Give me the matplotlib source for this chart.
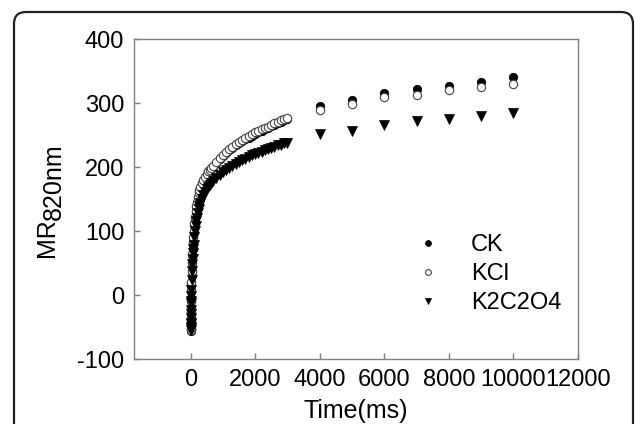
import matplotlib
matplotlib.use("Agg")
import matplotlib.pyplot as plt
from matplotlib.patches import FancyBboxPatch

plt.rcParams['font.family'] = ['Liberation Sans', 'DejaVu Sans']
plt.rcParams['axes.unicode_minus'] = False

# dense part of the transients (ms)
t_dense = [0, 0.5, 1, 2, 3, 5, 7, 10, 15, 20, 25, 30, 40, 50, 60, 70, 80, 90,
           100, 120, 140, 160, 180, 200, 225, 250, 275, 300, 350, 400, 450,
           500, 550, 600, 650, 700, 800, 900, 1000, 1100, 1200, 1300, 1400,
           1500, 1600, 1700, 1800, 1900, 2000, 2100, 2200, 2300, 2400, 2500,
           2600, 2700, 2800, 2900, 3000]

kcl_dense = [-10, -30, -45, -53, -55, -52, -45, -35, -20, -5, 8, 20, 38, 52,
             64, 74, 83, 91, 100, 112, 122, 131, 139, 146, 153, 159, 164, 168,
             175, 180, 185, 189, 193, 196, 199, 202, 208, 214, 219, 224, 228,
             232, 236, 239, 242, 245, 248, 251, 254, 256, 259, 261, 263, 266,
             268, 270, 273, 275, 277]

ck_dense = [-10, -30, -45, -53, -56, -53, -46, -36, -21, -7, 6, 18, 36, 50,
            62, 72, 81, 89, 98, 110, 120, 129, 137, 144, 151, 157, 162, 166,
            173, 178, 183, 187, 191, 194, 197, 200, 206, 212, 217, 222, 226,
            230, 234, 237, 240, 243, 246, 249, 252, 254, 257, 259, 261, 264,
            266, 268, 271, 273, 275]

k2c2o4_dense = [-10, -30, -45, -52, -54, -50, -44, -36, -24, -12, -2, 8, 24,
                37, 48, 57, 65, 72, 78, 90, 100, 108, 115, 121, 128, 134, 139,
                143, 150, 156, 161, 165, 169, 172, 175, 178, 183, 188, 192, 196,
                199, 202, 205, 208, 211, 213, 216, 218, 220, 222, 224, 226, 228,
                230, 232, 234, 235, 237, 238]

# sparse part (ms)
t_sparse = [4000, 5000, 6000, 7000, 8000, 9000, 10000]
ck_sparse = [295, 305, 315, 322, 327, 333, 341]
kcl_sparse = [289, 298, 309, 312, 320, 325, 330]
k2c2o4_sparse = [252, 257, 266, 272, 275, 279, 284]

fig = plt.figure(figsize=(6.35, 4.24), dpi=100)
ax = fig.add_axes([134 / 635, 65 / 424, 444 / 635, 320 / 424])

ms_c = 6
ms_t = 6.5
ax.plot(t_dense + t_sparse, ck_dense + ck_sparse, 'o', ms=ms_c, mfc='black',
        mec='black', mew=0.6, label='CK', zorder=3)
ax.plot(t_dense + t_sparse, kcl_dense + kcl_sparse, 'o', ms=ms_c, mfc='white',
        mec='#444444', mew=0.8, label='KCl', zorder=4)
ax.plot(t_dense + t_sparse, k2c2o4_dense + k2c2o4_sparse, 'v', ms=ms_t,
        mfc='black', mec='black', mew=0.5, label='K2C2O4', zorder=5)

ax.set_xlim(-1750, 12000)
ax.set_ylim(-100, 400)
ax.set_xticks([0, 2000, 4000, 6000, 8000, 10000, 12000])
ax.set_yticks([-100, 0, 100, 200, 300, 400])

for s in ax.spines.values():
    s.set_color('#808080')
    s.set_linewidth(1)
ax.tick_params(direction='in', length=4, width=1, color='#808080',
               labelsize=17, pad=7)

leg = ax.legend(loc='upper left', bbox_to_anchor=(0.60, 0.42), frameon=False,
                fontsize=17, markerscale=0.7, handlelength=1.5,
                handletextpad=1.1, labelspacing=0.3, borderaxespad=0)

# y label with lowered "820nm"
fig.text(47 / 635, 1 - 238 / 424, 'MR', rotation=90, fontsize=18,
         ha='center', va='center')
fig.text(54 / 635, 1 - 182 / 424, '820nm', rotation=90, fontsize=18,
         ha='center', va='center')
fig.text(356 / 635, 1 - 411 / 424, 'Time(ms)', fontsize=18,
         ha='center', va='center')

# rounded outer frame
frame = FancyBboxPatch((14, -30), 619, 442,
                       boxstyle='round,pad=0,rounding_size=12',
                       transform=None, fill=False, ec='#222222', lw=1.6)
fig.add_artist(frame)

fig.savefig('out.png', dpi=100)
